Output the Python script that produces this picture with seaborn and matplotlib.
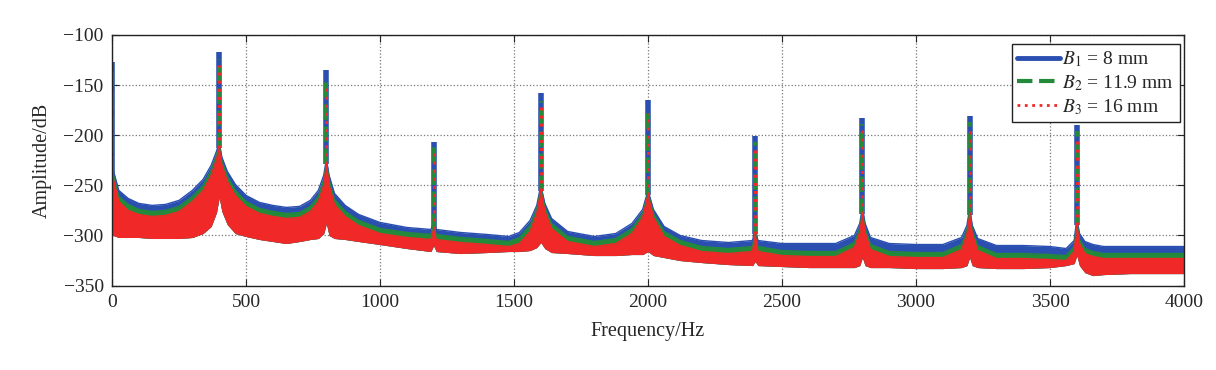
import matplotlib
matplotlib.use("Agg")
import matplotlib.pyplot as plt
import numpy as np
import pandas as pd
import seaborn as sns
from matplotlib.lines import Line2D

freq_hz = [0, 5, 25, 60, 100, 150, 200, 250, 300, 340, 370, 390, 400, 410, 430, 460,
           500, 550, 600, 650, 700, 740, 770, 790, 800, 810, 830, 870, 920, 1000,
           1100, 1190, 1200, 1210, 1300, 1400, 1480, 1520, 1560, 1585, 1600, 1615,
           1640, 1700, 1800, 1880, 1940, 1980, 2000, 2020, 2060, 2120, 2200, 2300,
           2390, 2400, 2410, 2500, 2600, 2700, 2770, 2790, 2800, 2810, 2830, 2900,
           3000, 3100, 3170, 3190, 3200, 3210, 3230, 3300, 3400, 3500, 3560, 3590,
           3600, 3610, 3630, 3660, 3700, 3800, 3900, 4000]

# upper edge of B1 (blue) band, dB
b1_top = [-232, -235, -255, -263, -268, -270, -269, -265, -255, -244, -230, -216, -207, -222, -236, -249,
          -260, -267, -270, -272, -271, -265, -255, -240, -224, -240, -258, -270, -279, -287,
          -292, -294, -288, -294, -297, -299, -301, -297, -285, -270, -250, -268,
          -283, -296, -301, -298, -288, -274, -255, -274, -291, -300, -305, -307,
          -305, -292, -305, -308, -308, -308, -300, -288, -272, -288, -302, -308,
          -309, -309, -302, -290, -273, -290, -303, -310, -310, -311, -313, -305,
          -283, -298, -306, -309, -311, -311, -311, -311]

# upper edge of B2 (green) band, dB
b2_top = [-236, -240, -261, -269, -274, -276, -275, -271, -261, -250, -235, -220, -210, -226, -241, -255,
          -266, -273, -276, -278, -277, -271, -261, -245, -227, -245, -264, -276, -285, -293,
          -297, -299, -291, -299, -302, -304, -306, -302, -290, -274, -253, -272,
          -288, -301, -306, -303, -293, -278, -258, -278, -296, -305, -311, -313,
          -311, -296, -311, -315, -316, -316, -307, -293, -276, -293, -309, -316,
          -317, -317, -309, -295, -277, -295, -310, -318, -318, -319, -320, -311,
          -287, -304, -313, -316, -318, -318, -318, -318]

# upper and lower edges of B3 (red) band, dB
b3_top = [-240, -244, -266, -275, -279, -281, -280, -276, -266, -255, -240, -224, -213, -230, -246, -260,
          -271, -278, -281, -283, -282, -276, -266, -250, -229, -250, -269, -281, -290, -298,
          -302, -304, -294, -304, -307, -309, -311, -308, -296, -278, -256, -276,
          -293, -306, -311, -308, -298, -282, -260, -282, -301, -310, -316, -318,
          -316, -299, -316, -320, -321, -321, -312, -297, -279, -297, -314, -321,
          -322, -322, -314, -299, -280, -299, -315, -323, -323, -324, -325, -316,
          -290, -308, -318, -321, -323, -323, -323, -323]
b3_bottom = [-300, -300, -302, -302, -302, -303, -303, -303, -302, -298, -291, -277, -262, -276, -289, -298,
             -301, -304, -306, -308, -306, -304, -303, -298, -288, -300, -303, -304, -306, -309,
             -313, -316, -310, -316, -318, -317, -316, -316, -315, -312, -307, -313,
             -317, -318, -320, -320, -319, -319, -316, -320, -322, -325, -327, -329,
             -330, -326, -330, -331, -332, -332, -332, -330, -322, -330, -332, -332,
             -333, -333, -332, -330, -322, -330, -332, -333, -333, -332, -330, -328,
             -320, -330, -337, -340, -339, -338, -338, -338]

# harmonic spikes: frequency and tip level of each series
peak_hz = [0, 400, 800, 1200, 1600, 2000, 2400, 2800, 3200, 3600]
b1_peak = [-127, -117, -135, -207, -158, -165, -201, -183, -181, -190]
b2_peak = [-133, -124, -142, -212, -166, -172, -207, -189, -187, -196]
b3_peak = [-138, -130, -148, -216, -172, -178, -212, -194, -192, -201]

labels = [r"$B_1$ = 8 mm", r"$B_2$ = 11.9 mm", r"$B_3$ = 16 mm"]
colors = ["#2a4fb0", "#238a3a", "#f02828"]
styles = ["-", "--", ":"]

sns.set_style("ticks")
plt.rcParams["font.family"] = ["Liberation Serif", "DejaVu Serif"]
plt.rcParams["mathtext.fontset"] = "stix"
plt.rcParams["font.size"] = 14

fig = plt.figure(figsize=(12.16, 3.7), dpi=100)
ax = fig.add_axes([0.0921, 0.228, 0.8816, 0.6776])

bands = pd.DataFrame({"freq": freq_hz, "b1": b1_top, "b2": b2_top, "b3": b3_top, "bottom": b3_bottom})
peaks = pd.DataFrame({"freq": peak_hz, "b1": b1_peak, "b2": b2_peak, "b3": b3_peak})
# spikes rise from the top of the red band at each harmonic
peaks["base"] = bands.set_index("freq").loc[peak_hz, "b3"].to_numpy()

tops = ["b1", "b2", "b3"]
for key, color in zip(tops, colors):
    ax.fill_between(bands["freq"], bands[key], bands["bottom"], color=color, lw=0, zorder=2)
    sns.lineplot(data=bands, x="freq", y=key, color=color, lw=1.0, ax=ax, zorder=2)

widths = [4.0, 3.0, 2.2]
for key, color, ls, lw in zip(tops, colors, styles, widths):
    ax.vlines(peaks["freq"], peaks["base"], peaks[key], colors=color, linestyles=ls, lw=lw, zorder=3)

ax.set_xlim(0, 4000)
ax.set_ylim(-350, -100)
ax.set_xticks(np.arange(0, 4001, 500))
ax.set_yticks(np.arange(-350, -99, 50))
ax.set_xlabel("")
ax.set_ylabel("")
ax.grid(True, linestyle=":", color="#777777", lw=0.9)
ax.set_axisbelow(True)
ax.tick_params(direction="in", top=True, right=True, length=5, labelsize=14, pad=6)
for spine in ax.spines.values():
    spine.set_color("#222222")
    spine.set_linewidth(1.0)
    spine.set_zorder(5)

ax.set_xlabel("Frequency/Hz", fontsize=14.5, labelpad=8)
ax.set_ylabel("Amplitude/dB", fontsize=14.5, labelpad=8)

handles = [Line2D([], [], color=c, ls=s, lw=w) for c, s, w in zip(colors, styles, [3.5, 3.0, 2.0])]
leg = ax.legend(handles, labels, loc="upper right", bbox_to_anchor=(0.9995, 0.98), fontsize=14,
                frameon=True, fancybox=False, framealpha=1, edgecolor="#222222",
                handlelength=2.2, handletextpad=0.1, labelspacing=0.2, borderpad=0.3, borderaxespad=0.2)
leg.get_frame().set_linewidth(1.0)
leg.set_zorder(6)

fig.savefig("out.png", dpi=100)
